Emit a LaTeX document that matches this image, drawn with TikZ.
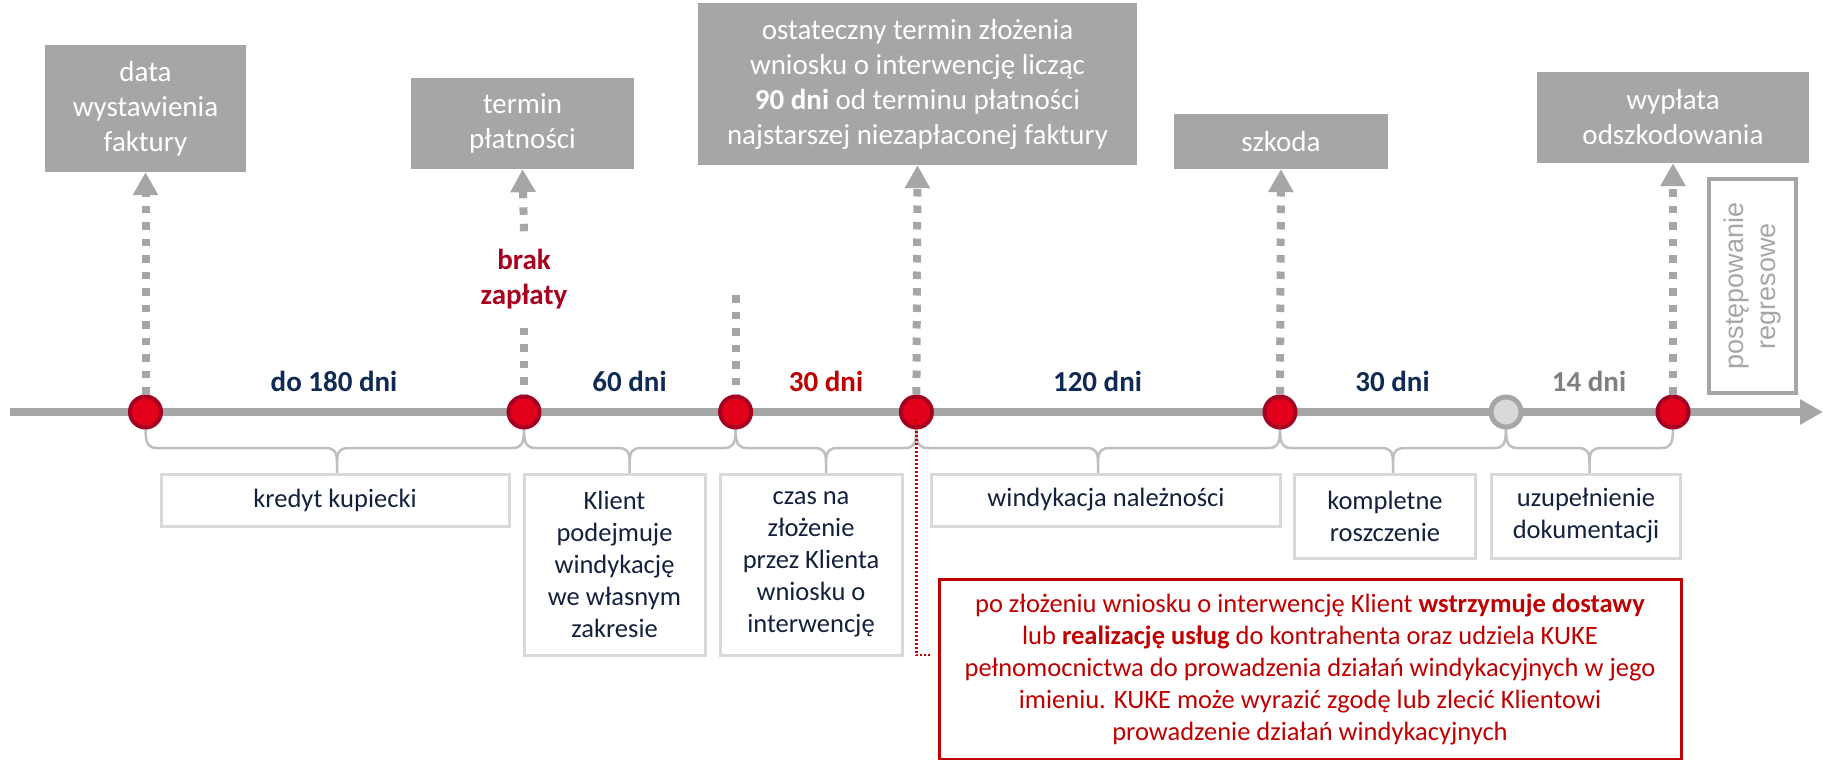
\documentclass[tikz,border=0pt]{standalone}
\usepackage{fontspec}
\setmainfont{Carlito}
\newfontfamily\arialf{Liberation Sans}
\usetikzlibrary{arrows.meta}
\definecolor{boxgray}{HTML}{A6A6A6}
\definecolor{navy}{HTML}{0F2A55}
\definecolor{darkred}{HTML}{C00000}
\definecolor{deepred}{HTML}{A8001E}
\definecolor{circred}{HTML}{E2001A}
\definecolor{ringred}{HTML}{A50021}
\definecolor{lightline}{HTML}{BFBFBF}
\definecolor{boxline}{HTML}{D9D9D9}
\definecolor{txtnavy}{HTML}{14213D}
\definecolor{lightfill}{HTML}{D9D9D9}
\definecolor{midgray}{HTML}{7F7F7F}
\newcommand\kukebrace[3]{%
  \draw[brc] (#1,428) .. controls (#1,445) and (#1+3,448) .. (#1+12,448) -- (#2-12,448)
    .. controls (#2-3,448) and (#2,451) .. (#2,463) -- (#2,474)
    (#2,463) .. controls (#2,451) and (#2+3,448) .. (#2+12,448) -- (#3-12,448)
    .. controls (#3-3,448) and (#3,445) .. (#3,428);}
\begin{document}
\begin{tikzpicture}[x=1pt,y=-1pt,
  topbox/.style={fill=boxgray, text=white, align=center, inner sep=0pt, font=\fontsize{29}{35}\selectfont},
  lowbox/.style={draw=boxline, line width=3pt, fill=white, text=txtnavy, align=center, inner sep=0pt, font=\fontsize{26.5}{32}\selectfont},
  redc/.style={circle, fill=circred, draw=ringred, line width=4pt, minimum size=31pt, inner sep=0pt},
  grayc/.style={circle, fill=lightfill, draw=boxgray, line width=5pt, minimum size=30pt, inner sep=0pt},
  dotline/.style={draw=boxgray, line width=8pt, dash pattern=on 7.5pt off 9pt},
  dotarrow/.style={dotline, -{Triangle[length=23pt,width=24pt]}},
  dayl/.style={font=\bfseries\fontsize{29}{35}\selectfont, inner sep=0pt},
  brc/.style={draw=lightline, line width=2.5pt},
  reddot/.style={draw=darkred, line width=2.2pt, dash pattern=on 2pt off 2pt},
]
\useasboundingbox (0,0) rectangle (1829,760);

% top boxes
\node[topbox, minimum width=201pt, minimum height=127pt] (b1) at (145.5,108.5) {data\\wystawienia\\faktury};
\node[topbox, minimum width=223pt, minimum height=91pt] (b2) at (522.5,123.5) {termin\\płatności};
\node[topbox, minimum width=439pt, minimum height=162pt] (b3) at (917.5,84) {ostateczny termin złożenia\\wniosku o interwencję licząc\\\textbf{90 dni} od terminu płatności\\najstarszej niezapłaconej faktury};
\node[topbox, minimum width=214pt, minimum height=55pt] (b4) at (1281,141.5) {szkoda};
\node[topbox, minimum width=272pt, minimum height=91pt] (b5) at (1673,117.5) {wypłata\\odszkodowania};

% regres box
\node[draw=boxgray, line width=4pt, rotate=90, minimum width=214pt, minimum height=87pt, inner sep=0pt,
  align=center, text=boxgray, font=\arialf\fontsize{27}{32.5}\selectfont] (reg) at (1752.5,286) {postępowanie\\regresowe};

% axis
\coordinate (axs) at (10,412);
\coordinate (axe) at (1823,412);
\draw[draw=boxgray, line width=8pt, -{Triangle[length=23pt,width=24pt]}] (axs) -- (axe);

% braces
\kukebrace{145.5}{337}{524}
\kukebrace{524}{629.7}{735.6}
\kukebrace{735.6}{826}{916.4}
\kukebrace{916.4}{1098}{1280}
\kukebrace{1280}{1393}{1506}
\kukebrace{1506}{1589.5}{1673}

% circles
\node[redc] (c1) at (145.5,412) {};
\node[redc] (c2) at (524,412) {};
\node[redc] (c3) at (735.6,412) {};
\node[redc] (c4) at (916.4,412) {};
\node[redc] (c5) at (1280,412) {};
\node[grayc] (c6) at (1506,412) {};
\node[redc] (c7) at (1673,412) {};

% brak zaplaty
\node[font=\bfseries\fontsize{29}{35}\selectfont, text=deepred, align=center, inner sep=0pt, minimum height=96pt] (brak) at (524,279.5) {brak\\zapłaty};

% dotted connectors
\draw[dotarrow] (c1.north) -- (b1.south);
\draw[dotline] (brak.south) -- (c2.north);
\draw[dotarrow] (brak.north) -- (b2.south);
\coordinate (c3top) at (735.6,295);
\draw[dotline] (c3top) -- (c3.north);
\draw[dotarrow] (c4.north) -- (b3.south);
\draw[dotarrow] (c5.north) -- (b4.south);
\draw[dotarrow] (c7.north) -- (b5.south);

% day labels
\node[dayl, text=navy] (l1) at (334,381) {do 180 dni};
\node[dayl, text=navy] (l2) at (629.5,381) {60 dni};
\node[dayl, text=darkred] (l3) at (826,381) {30 dni};
\node[dayl, text=navy] (l4) at (1097.5,381) {120 dni};
\node[dayl, text=navy] (l5) at (1392.5,381) {30 dni};
\node[dayl, text=midgray] (l6) at (1589,381) {14 dni};

% lower boxes
\node[lowbox, minimum width=348pt, minimum height=52pt] (k1) at (335,500) {kredyt kupiecki};
\node[lowbox, minimum width=181pt, minimum height=181pt] (k2) at (614.5,564.5) {Klient\\podejmuje\\windykację\\we własnym\\zakresie};
\node[lowbox, minimum width=182pt, minimum height=181pt] (k3) at (811,564.5) {czas na\\złożenie\\przez Klienta\\wniosku o\\interwencję};
\node[lowbox, minimum width=349.5pt, minimum height=52pt] (k4) at (1106,500) {windykacja należności};
\node[lowbox, minimum width=181.5pt, minimum height=84pt] (k5) at (1385,516) {kompletne\\roszczenie};
\node[lowbox, minimum width=189.6pt, minimum height=84pt] (k6) at (1586,516) {uzupełnienie\\dokumentacji};

% red note
\node[draw=darkred, line width=3pt, fill=white, text=darkred, align=center, inner sep=0pt,
  minimum width=742pt, minimum height=180pt, font=\fontsize{26.5}{32}\selectfont] (note) at (1310,669)
  {po złożeniu wniosku o interwencję Klient \textbf{wstrzymuje dostawy}\\lub \textbf{realizację usług} do kontrahenta oraz udziela KUKE\\pełnomocnictwa do prowadzenia działań windykacyjnych w jego\\imieniu. KUKE może wyrazić zgodę lub zlecić Klientowi\\prowadzenie działań windykacyjnych};

\coordinate (rd1) at (916.4,655);
\coordinate (rd2) at (932,655);
\draw[reddot] ([yshift=-7pt]c4.center) -- (rd1) -- (rd2);
\end{tikzpicture}
\end{document}
